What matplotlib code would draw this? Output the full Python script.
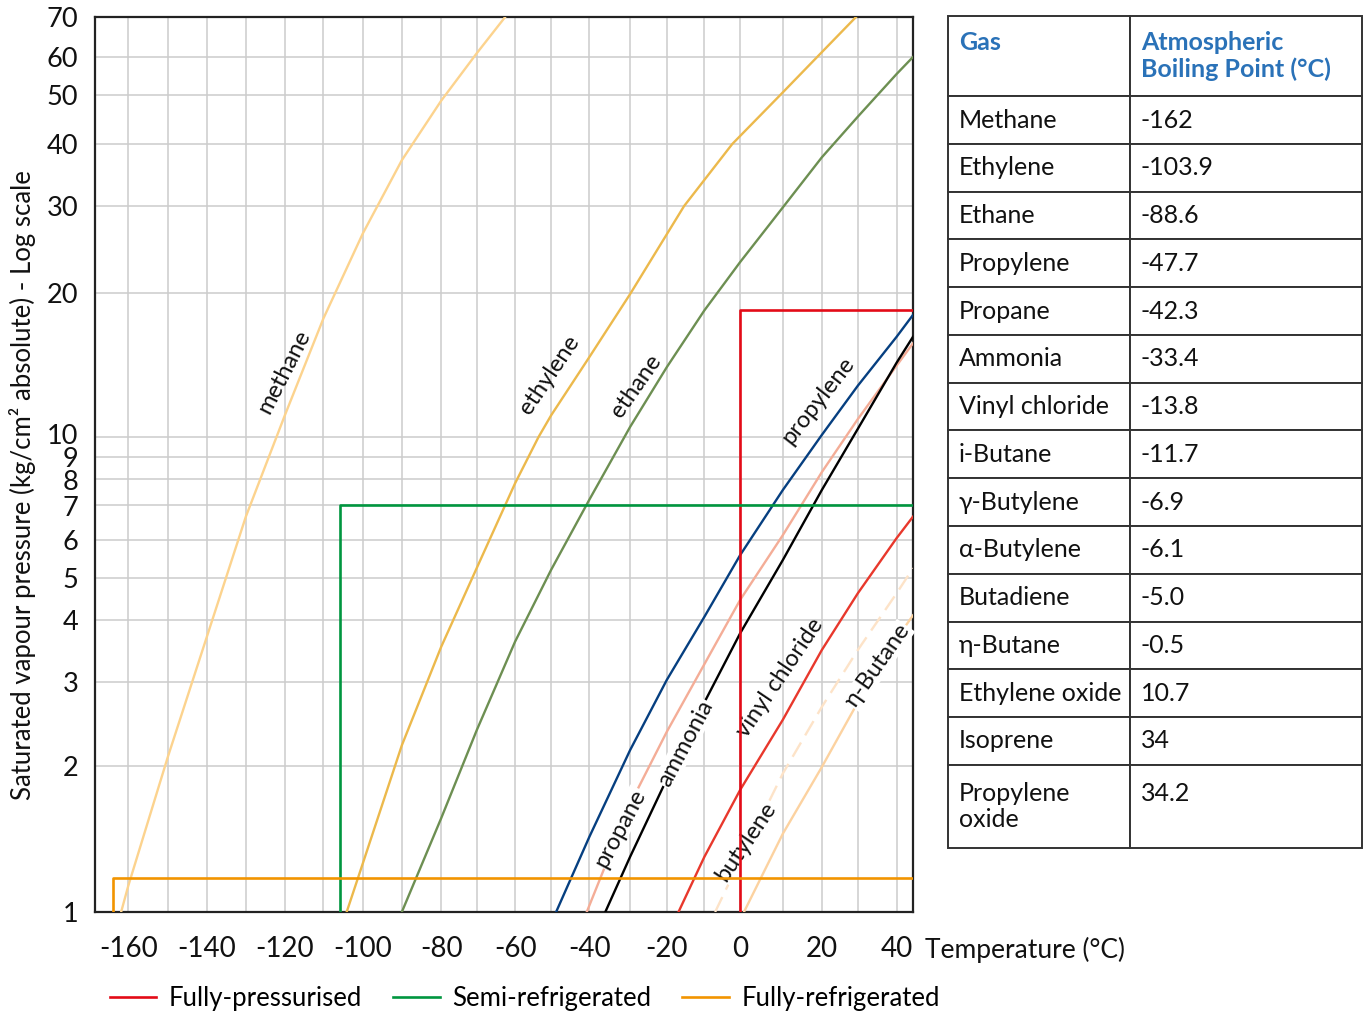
import numpy as np
import matplotlib
matplotlib.use("Agg")
import matplotlib.pyplot as plt
from matplotlib.transforms import ScaledTranslation

plt.rcParams['font.family'] = ['Lato', 'DejaVu Sans']
plt.rcParams['axes.unicode_minus'] = False

# saturated vapour pressure curves
# temperature in deg C, pressure in kg/cm2 absolute
methane_t = [-161.8, -160, -150, -140, -130, -120, -110, -100, -90, -80, -70, -62.6]
methane_p = [1, 1.13, 2.09, 3.70, 6.65, 11.1, 17.7, 26.4, 37.1, 48.7, 60.9, 70]

ethylene_t = [-104.1, -100, -90, -80, -70, -60, -53.5, -50, -40, -30, -15.4, -2.2, 9.4, 18.8, 29.5]
ethylene_p = [1, 1.26, 2.21, 3.53, 5.25, 7.83, 10, 11.1, 14.7, 19.9, 30, 40, 50, 60, 70]

ethane_t = [-90, -80, -70, -60, -50, -40, -30, -20, -10, 0, 10, 20, 30, 40, 44.2]
ethane_p = [1, 1.56, 2.38, 3.62, 5.2, 7.2, 10.5, 14.0, 18.4, 23.1, 29.8, 37.6, 45.3, 55.3, 60]

propylene_t = [-48.7, -40, -30, -20, -10, 0, 10, 20, 30, 40, 44.2]
propylene_p = [1, 1.43, 2.16, 3.03, 4.07, 5.58, 7.56, 10.1, 12.8, 16.2, 18.0]

propane_t = [-40.7, -30, -20, -10, 0, 10, 20, 30, 40, 44.2]
propane_p = [1, 1.67, 2.36, 3.26, 4.45, 6.13, 8.3, 10.9, 14.1, 15.7]

ammonia_t = [-36.1, -30, -20, -10, 0, 10, 20, 30, 40, 44.2]
ammonia_p = [1, 1.30, 1.88, 2.72, 3.76, 5.45, 7.56, 10.4, 14.3, 16.2]

vinyl_t = [-16.9, -10, 0, 10, 20, 30, 40, 44.2]
vinyl_p = [1, 1.30, 1.785, 2.50, 3.48, 4.61, 6.05, 6.65]

butylene_t = [-7.0, 0, 10, 20, 30, 40, 44.2]
butylene_p = [1, 1.28, 1.93, 2.66, 3.48, 4.61, 5.24]

nbutane_t = [0.9, 10, 20, 30, 40, 44.2]
nbutane_p = [1, 1.45, 1.99, 2.72, 3.67, 4.1]

# carriage type limits: (temperature, pressure)
pressurised_t, pressurised_p = 0, 18.4
semi_t, semi_p = -105.8, 7
refrig_t, refrig_p = -163.8, 1.175

# boiling point table
gas_names = ["Methane", "Ethylene", "Ethane", "Propylene", "Propane", "Ammonia",
             "Vinyl chloride", "i-Butane", "γ-Butylene", "α-Butylene", "Butadiene",
             "η-Butane", "Ethylene oxide", "Isoprene", "Propylene\noxide"]
boiling_points = ["-162", "-103.9", "-88.6", "-47.7", "-42.3", "-33.4", "-13.8", "-11.7",
                  "-6.9", "-6.1", "-5.0", "-0.5", "10.7", "34", "34.2\n "]

xticks = list(range(-160, 41, 20))
yticks = [1, 2, 3, 4, 5, 6, 7, 8, 9, 10, 20, 30, 40, 50, 60, 70]

# the printed axes are hand drawn: grid spacing is not perfectly regular,
# so map both axes through the grid positions of the original
scale_t = list(range(-170, 51, 10))
scale_x = [89, 128, 167.7, 206.7, 245.7, 284.7, 323.3, 362.7, 401.7, 441, 476.7, 515,
           551, 589.3, 630, 666.7, 704.3, 740, 782.7, 821.7, 857.7, 896.5, 935.5]
scale_p = [0.5, 1, 2, 3, 4, 5, 6, 7, 8, 9, 10, 20, 30, 40, 50, 60, 70, 200]
scale_h = [-143, 0, 146, 230, 292, 334, 372, 407, 433, 455, 475, 619, 706, 768, 817, 855, 895, 1169]


def xfwd(v):
    return np.interp(np.asarray(v, dtype=float), scale_t, scale_x)


def xinv(h):
    return np.interp(np.asarray(h, dtype=float), scale_x, scale_t)


def yfwd(v):
    v = np.clip(np.asarray(v, dtype=float), 1e-3, None)
    return np.interp(np.log10(v), np.log10(scale_p), scale_h)


def yinv(h):
    return 10 ** np.interp(np.asarray(h, dtype=float), scale_h, np.log10(scale_p))


fig = plt.figure(figsize=(13.65, 10.13), dpi=100)
ax = fig.add_axes([95 / 1365, 1 - 912 / 1013, 818 / 1365, 895 / 1013])
ax.set_xscale('function', functions=(xfwd, xinv))
ax.set_yscale('function', functions=(yfwd, yinv))
ax.set_xlim(-168.5, 44.2)
ax.set_ylim(1, 70)

ax.set_xticks(xticks)
ax.set_xticklabels([str(v) for v in xticks])
ax.set_xticks(range(-150, 41, 20), minor=True)
ax.set_yticks(yticks)
ax.set_yticklabels([str(v) for v in yticks])
ax.yaxis.set_minor_locator(matplotlib.ticker.NullLocator())
ax.grid(True, which='both', color='#cccccc', lw=1.1, zorder=0)
ax.tick_params(axis='both', which='both', length=0, labelsize=20, colors='#111111')
ax.tick_params(axis='y', labelsize=19.5, pad=12)
ax.tick_params(axis='x', pad=17)
for s in ax.spines.values():
    s.set_color('#222222')
    s.set_linewidth(1.6)

# the stacked 8/9/10 labels sit a little apart in the original
nudge = {10: 3, 8: -1, 7: -1}
for tick, v in zip(ax.yaxis.get_major_ticks(), yticks):
    if v in nudge:
        tick.label1.set_transform(tick.label1.get_transform() +
                                  ScaledTranslation(0, nudge[v] / 100, fig.dpi_scale_trans))

curves = [
    (methane_t, methane_p, '#fcd38e', '-'),
    (ethylene_t, ethylene_p, '#ecb94c', '-'),
    (ethane_t, ethane_p, '#6d8f52', '-'),
    (propylene_t, propylene_p, '#063f80', '-'),
    (propane_t, propane_p, '#f4ad97', '-'),
    (ammonia_t, ammonia_p, '#000000', '-'),
    (vinyl_t, vinyl_p, '#e8382c', '-'),
    (butylene_t, butylene_p, '#fde3c8', (0, (7, 3.5))),
    (nbutane_t, nbutane_p, '#fcd2a0', '-'),
]
for t, p, c, ls in curves:
    ax.plot(t, p, color=c, ls=ls, lw=1.7, zorder=3, solid_joinstyle='round')

# carriage limits
ax.plot([pressurised_t, pressurised_t, 50], [0.5, pressurised_p, pressurised_p],
        color='#e30b17', lw=1.9, zorder=5, label='Fully-pressurised')
ax.plot([semi_t, semi_t, 50], [0.5, semi_p, semi_p],
        color='#00963f', lw=1.9, zorder=5, label='Semi-refrigerated')
ax.plot([refrig_t, refrig_t, 50], [0.5, refrig_p, refrig_p],
        color='#f29400', lw=1.9, zorder=5, label='Fully-refrigerated')

# curve labels
white = dict(facecolor='white', edgecolor='none', pad=0.5)
lab = dict(fontsize=17, ha='center', va='center', zorder=4, color='#111111')
ax.text(-120.2, 13.7, 'methane', rotation=63, **lab)
ax.text(-50.6, 13.5, 'ethylene', rotation=56, **lab)
ax.text(-28.4, 12.8, 'ethane', rotation=55, **lab)
ax.text(19.1, 11.9, 'propylene', rotation=52, **lab)
ax.text(-32.5, 1.49, 'propane', rotation=62, bbox=white, **lab)
ax.text(-15.1, 2.23, 'ammonia', rotation=62, bbox=white, **lab)
ax.text(9.4, 3.06, 'vinyl chloride', rotation=56, **lab)
ax.text(1.4, 1.40, 'butylene', rotation=56, bbox=white, **lab)
ax.text(35.2, 3.24, 'η-Butane', rotation=55, bbox=white, **lab)

ax.set_ylabel('Saturated vapour pressure (kg/cm² absolute) - Log scale', fontsize=18.5,
              color='#111111')
ax.yaxis.set_label_coords(-0.072, 0.477)
fig.text(925 / 1365, 1 - 950 / 1013, 'Temperature (°C)', fontsize=19, va='center',
         color='#111111')

fig.legend(*ax.get_legend_handles_labels(), loc='center left',
           bbox_to_anchor=(110 / 1365, 1 - 998 / 1013), ncol=3, frameon=False,
           fontsize=18.5, handlelength=1.8, handletextpad=0.5, columnspacing=1.2,
           borderaxespad=0, borderpad=0)

# boiling point table
tax = fig.add_axes([948 / 1365, 1 - 848 / 1013, 414 / 1365, 832 / 1013])
tax.axis('off')
tbl = tax.table(cellText=[[g, b] for g, b in zip(gas_names, boiling_points)],
                colLabels=['Gas\n ', 'Atmospheric\nBoiling Point (°C)'],
                colWidths=[182, 232], cellLoc='left', colLoc='left', bbox=[0, 0, 1, 1])
tbl.auto_set_font_size(False)
tbl.set_fontsize(18)
n = len(gas_names)
for (r, c), cell in tbl.get_celld().items():
    cell.set_edgecolor('#333333')
    cell.set_linewidth(1.4)
    cell.PAD = 11 / (182 if c == 0 else 232)
    if r == 0:
        cell.set_height(80)
        cell.get_text().set_color('#2a72b8')
        cell.get_text().set_fontweight('bold')
    else:
        cell.set_height(83 if r == n else 47.7)
        cell.get_text().set_color('#111111')

fig.savefig('out.png', dpi=100)
